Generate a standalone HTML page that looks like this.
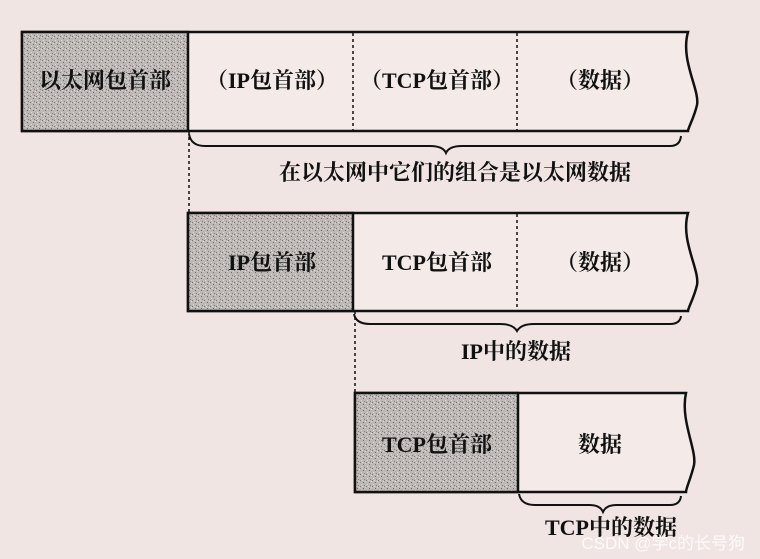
<!DOCTYPE html>
<html><head><meta charset="utf-8"><style>
html,body{margin:0;padding:0;background:#f1e5e3;}
svg{display:block}
text{font-family:"Liberation Serif","Noto Serif CJK SC",serif;font-weight:bold;fill:#111;}
</style></head><body>
<svg width="760" height="559" viewBox="0 0 760 559" xmlns="http://www.w3.org/2000/svg">
<defs>
<pattern id="n" width="6" height="6" patternUnits="userSpaceOnUse">
<rect width="6" height="6" fill="#bdb8b6"/>
<rect x="0" y="0" width="1" height="1" fill="#777"/>
<rect x="3" y="2" width="1" height="1" fill="#6f6b6a"/>
<rect x="1" y="4" width="1" height="1" fill="#e0dbd9"/>
<rect x="4" y="5" width="1" height="1" fill="#858180"/>
<rect x="5" y="1" width="1" height="1" fill="#dcd7d5"/>
<rect x="2" y="0" width="1" height="1" fill="#dcd7d5"/>
</pattern>
</defs>
<g stroke="#111" fill="none">
<path d="M22,32 H688 C680,60 700,90 697,105 C694,118 688,128 688,131 H22 Z" fill="#f4eae8" stroke-width="2.5"/>
<rect x="22" y="32" width="166" height="99" fill="url(#n)" stroke-width="2.5"/>
<line x1="353" y1="33" x2="353" y2="130" stroke-dasharray="3,3" stroke-width="1.5"/>
<line x1="517" y1="33" x2="517" y2="130" stroke-dasharray="3,3" stroke-width="1.5"/>
<path d="M189,134 Q191,146 205,146 H430 Q443,146 446,153 Q449,146 462,146 H670 Q680,146 681,136" stroke-width="2"/>
<line x1="189" y1="131" x2="189" y2="213" stroke-dasharray="3,3" stroke-width="1.5"/>
<path d="M188,213 H688 C680,240 700,270 697,285 C694,298 688,308 688,311 H188 Z" fill="#f4eae8" stroke-width="2.5"/>
<rect x="188" y="213" width="165" height="98" fill="url(#n)" stroke-width="2.5"/>
<line x1="517" y1="214" x2="517" y2="310" stroke-dasharray="3,3" stroke-width="1.5"/>
<path d="M354,314 Q356,324 370,324 H500 Q513,324 517,331 Q521,324 534,324 H670 Q680,324 681,316" stroke-width="2"/>
<line x1="355" y1="311" x2="355" y2="393" stroke-dasharray="3,3" stroke-width="1.5"/>
<path d="M355,393 H686 C680,420 697,450 694,465 C691,478 686,488 686,492 H355 Z" fill="#f4eae8" stroke-width="2.5"/>
<rect x="355" y="393" width="163" height="99" fill="url(#n)" stroke-width="2.5"/>
<path d="M519,494 Q521,505 535,505 H590 Q600,505 603,512 Q606,505 616,505 H670 Q680,505 681,496" stroke-width="2"/>
</g>
<g font-size="22" text-anchor="middle">
<text x="105" y="88">以太网包首部</text>
<text x="272" y="88">（IP包首部）</text>
<text x="437" y="88">（TCP包首部）</text>
<text x="600" y="88">（数据）</text>
<text x="455" y="180">在以太网中它们的组合是以太网数据</text>
<text x="272" y="270">IP包首部</text>
<text x="437" y="270">TCP包首部</text>
<text x="600" y="270">（数据）</text>
<text x="516" y="359">IP中的数据</text>
<text x="437" y="452">TCP包首部</text>
<text x="600" y="452">数据</text>
<text x="611" y="535">TCP中的数据</text>
</g>
<text x="745" y="549" text-anchor="end" font-size="17" style="font-family:'Liberation Sans','Noto Sans CJK SC',sans-serif;font-weight:normal;fill:#ffffff;fill-opacity:0.8">CSDN @学c的长号狗</text>
</svg>
</body></html>
